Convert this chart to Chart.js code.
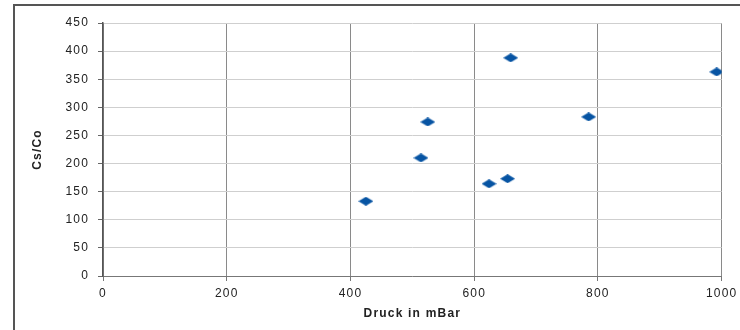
<!DOCTYPE html>
<html>
<head>
<meta charset="utf-8">
<script src="https://cdn.jsdelivr.net/npm/chart.js@4/dist/chart.umd.min.js"></script>
<style>
    html, body { margin: 0; background: #fff; overflow: hidden; }
    #wrap { position: relative; width: 740px; height: 330px; overflow: hidden; }
    #frame { position: absolute; left: 13px; top: 4px; width: 800px; height: 400px;
             border-left: 2px solid #555; border-top: 2px solid #555; }
    canvas { position: absolute; left: 0; top: 0; }
</style>
</head>
<body>
<div id="wrap">
    <div id="frame"></div>
    <canvas id="chart" width="740" height="330"></canvas>
</div>
<script>
// Messwerte
const druck = [425, 514, 525, 624, 654, 659, 785, 992];
const csCo = [133, 210, 274, 164, 173, 388, 283, 363];
const xTicks = [0, 200, 400, 600, 800, 1000];
const yTicks = [0, 50, 100, 150, 200, 250, 300, 350, 400, 450];

// flache Raute als Marker
function makeDiamond(w, h, color) {
    const c = document.createElement('canvas');
    c.width = w;
    c.height = h;
    const g = c.getContext('2d');
    g.fillStyle = color;
    g.beginPath();
    g.moveTo(w / 2, 0);
    g.lineTo(w, h / 2);
    g.lineTo(w / 2, h);
    g.lineTo(0, h / 2);
    g.closePath();
    g.fill();
    return c;
}

const diamond = makeDiamond(15, 9, '#0754a3');

const FAMILY = "'Liberation Sans', Arial, sans-serif";
const TICK_FONT = { family: FAMILY, size: 12 };
const TITLE_FONT = { family: FAMILY, size: 12, weight: 'bold' };

const spacingPlugin = {
    id: 'spacing',
    beforeDraw: chart => { chart.ctx.letterSpacing = '1.2px'; }
};

new Chart(document.getElementById('chart'), {
    type: 'scatter',
    data: {
        datasets: [{
            data: druck.map((x, i) => ({ x: x, y: csCo[i] })),
            pointStyle: diamond,
            pointRadius: 7,
            pointHoverRadius: 7
        }]
    },
    options: {
        responsive: false,
        animation: false,
        layout: { padding: { left: 0, right: 18, top: 23, bottom: 0 } },
        plugins: { legend: { display: false }, tooltip: { enabled: false } },
        scales: {
            x: {
                type: 'linear',
                min: 0,
                max: 1000,
                afterBuildTicks: s => { s.ticks = xTicks.map(v => ({ value: v })); },
                afterFit: s => { s.height = 54; },
                grid: { color: '#8a8a8a', tickColor: '#777', tickLength: 5, lineWidth: 1 },
                border: { color: '#777', width: 1 },
                ticks: { color: '#222', font: TICK_FONT, padding: 5, maxRotation: 0, callback: v => String(v) },
                title: {
                    display: true,
                    text: 'Druck in mBar',
                    color: '#222',
                    font: TITLE_FONT,
                    padding: { top: 0, bottom: 9 }
                }
            },
            y: {
                min: 0,
                max: 450,
                afterBuildTicks: s => { s.ticks = yTicks.map(v => ({ value: v })); },
                afterFit: s => { s.width = 103; },
                grid: { color: '#cfcfcf', tickColor: '#666', tickLength: 5, lineWidth: 1 },
                border: { color: '#555', width: 1.5 },
                ticks: { color: '#222', font: TICK_FONT, padding: 9, callback: v => String(v) },
                title: {
                    display: true,
                    text: 'Cs/Co',
                    color: '#222',
                    font: TITLE_FONT,
                    padding: { top: 30, bottom: 0 }
                }
            }
        }
    },
    plugins: [spacingPlugin]
});
</script>
</body>
</html>
